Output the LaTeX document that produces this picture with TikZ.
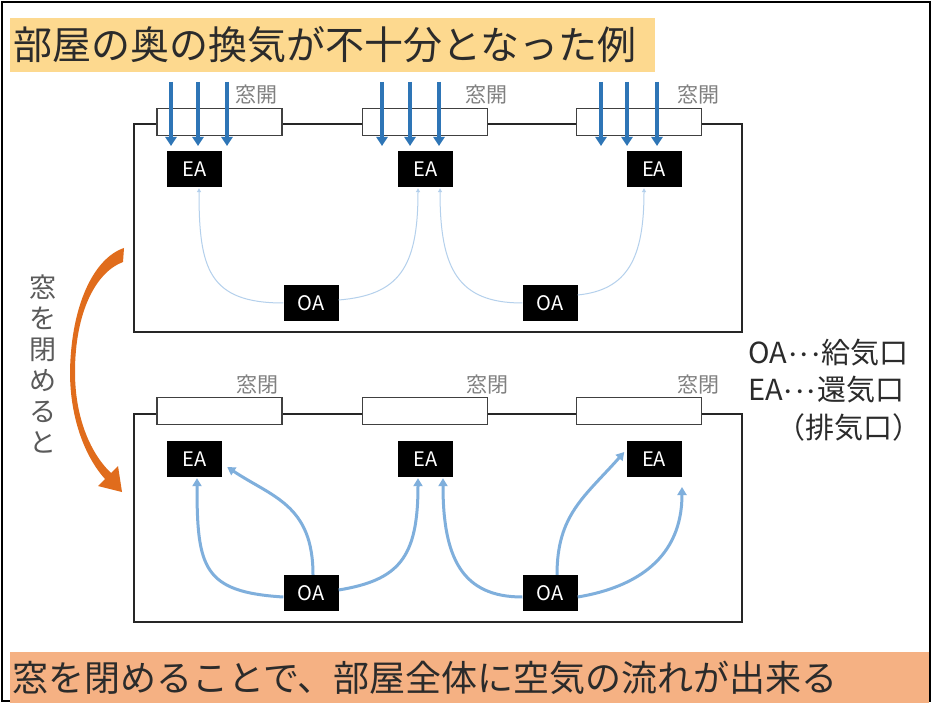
\documentclass[tikz,border=0pt]{standalone}
\usepackage{fontspec}
\setmainfont{Noto Sans CJK JP}
\usetikzlibrary{arrows.meta,calc}
\definecolor{titlebg}{HTML}{FDD98F}
\definecolor{bottombg}{HTML}{F5B183}
\definecolor{arrowblue}{HTML}{2E75B6}
\definecolor{flowblue}{HTML}{7FAFDC}
\definecolor{faintblue}{HTML}{B4D0EC}
\definecolor{orangearr}{HTML}{E06C1C}
\definecolor{labelgray}{HTML}{808080}
\definecolor{textdark}{HTML}{2B2B2B}
\definecolor{vgray}{HTML}{5A5A5A}
\newcommand{\middots}{{\fontsize{23}{23}\selectfont ･･･}}
\begin{document}
\begin{tikzpicture}[x=1pt,y=-1pt,
  box/.style={fill=black, text=white, minimum width=55pt, minimum height=36pt, inner sep=0pt, font=\fontsize{20}{20}\selectfont},
  win/.style={draw=black!75, fill=white, line width=1.1pt, minimum width=125pt, minimum height=27pt, inner sep=0pt},
  room/.style={draw=black!85, line width=1.3pt},
  winlbl/.style={text=labelgray, font=\fontsize{21}{21}\selectfont, inner sep=0pt},
  inflow/.style={draw=arrowblue, line width=3.5pt, -{Triangle[width=11pt,length=9pt]}},
  faint/.style={draw=faintblue, line width=1pt, -{Triangle[width=4pt,length=4pt]}},
  flow/.style={draw=flowblue, line width=3pt, -{Triangle[width=9pt,length=8pt]}},
  legend/.style={anchor=west, inner sep=0pt, text=textdark, font=\fontsize{29}{29}\selectfont}
]
\useasboundingbox (0,0) rectangle (932,703);
\fill[white] (0,0) rectangle (932,703);
\draw[line width=2.5pt] (2,2) rectangle (930,701);

% title
\fill[titlebg] (10,18) rectangle (655,72);
\node[anchor=west, inner sep=0pt, text=textdark, font=\fontsize{39}{42}\selectfont] (title) at (13,45) {部屋の奥の換気が不十分となった例};

% bottom bar
\fill[bottombg] (10,652) rectangle (929,703);
\node[anchor=west, inner sep=0pt, text=textdark, font=\fontsize{36}{40}\selectfont] (concl) at (12,678) {窓を閉めることで、部屋全体に空気の流れが出来る};

% ===== top room =====
\draw[room] (134,124) rectangle (742,332);
\node[win] (tw1) at (219.5,122) {};
\node[win] (tw2) at (425,122) {};
\node[win] (tw3) at (639,122) {};
\node[winlbl] (tl1) at (256,95) {窓開};
\node[winlbl] (tl2) at (486,95) {窓開};
\node[winlbl] (tl3) at (698,95) {窓開};
\foreach \x in {171,198,227,382,410,439,601,627,657}
  \draw[inflow] (\x,82) -- (\x,146);
\node[box] (tea1) at (194.5,169) {EA};
\node[box] (tea2) at (425.5,169) {EA};
\node[box] (tea3) at (654,169) {EA};
\node[box] (toa1) at (311,303) {OA};
\node[box] (toa2) at (550,303) {OA};
\draw[faint] (toa1.west) .. controls +(-75,0) and +(0,80) .. ($(tea1.south)+(4.5,1)$);
\draw[faint] ($(toa1.east)+(0,-3)$) .. controls +(60,-5) and +(0,80) .. ($(tea2.south)+(-7.5,1)$);
\draw[faint] (toa2.west) .. controls +(-65,0) and +(0,80) .. ($(tea2.south)+(14.5,1)$);
\draw[faint] ($(toa2.east)+(0,-8)$) .. controls +(50,-5) and +(0,70) .. ($(tea3.south)+(-10,1)$);

% ===== bottom room =====
\draw[room] (134,414) rectangle (742,622);
\node[win] (bw1) at (219.5,411) {};
\node[win] (bw2) at (425,411) {};
\node[win] (bw3) at (639,411) {};
\node[winlbl] (bl1) at (257,385) {窓閉};
\node[winlbl] (bl2) at (487,385) {窓閉};
\node[winlbl] (bl3) at (698,385) {窓閉};
\node[box] (bea1) at (194.5,459) {EA};
\node[box] (bea2) at (425.5,459) {EA};
\node[box] (bea3) at (654,459) {EA};
\node[box] (boa1) at (311,593) {OA};
\node[box] (boa2) at (550,593) {OA};
\coordinate (free) at (682,487);
\draw[flow] ($(boa1.west)+(0,4)$) .. controls +(-80,-5) and +(0,90) .. ($(bea1.south)+(2.5,1)$);
\draw[flow] ($(boa1.north)+(2,0)$) .. controls +(0,-70) and +(45,30) .. ($(bea1.east)+(5,8)$);
\draw[flow] ($(boa1.east)+(0,-3)$) .. controls +(60,-10) and +(0,80) .. ($(bea2.south)+(-7.5,1)$);
\draw[flow] ($(boa2.west)+(0,4)$) .. controls +(-60,0) and +(0,80) .. ($(bea2.south)+(17.5,1)$);
\draw[flow] ($(boa2.north)+(7,0)$) .. controls +(0,-60) and +(-40,45) .. ($(bea3.west)+(-2,-7)$);
\draw[flow] ($(boa2.east)+(0,4)$) .. controls +(60,-10) and +(0,70) .. (free);

% ===== orange arrow & vertical text =====
\fill[orangearr] (124,248) .. controls (94,258) and (71,305) .. (70,372)
  .. controls (70,420) and (86,458) .. (105,479) -- (98,486) -- (122,492) -- (118,466) -- (111,473)
  .. controls (92,455) and (75,420) .. (75,372) .. controls (75,312) and (96,272) .. (123,262) -- cycle;
\node[inner sep=0pt, align=center, text=vgray, font=\fontsize{27}{31}\selectfont] (vt) at (43,364) {窓\\を\\閉\\め\\る\\と};

% legend
\node[legend] (lg1) at (748,353) {OA\middots 給気口};
\node[legend] (lg2) at (748,390) {EA\middots 還気口};
\node[legend] (lg3) at (776,427) {（排気口）};
\end{tikzpicture}
\end{document}
